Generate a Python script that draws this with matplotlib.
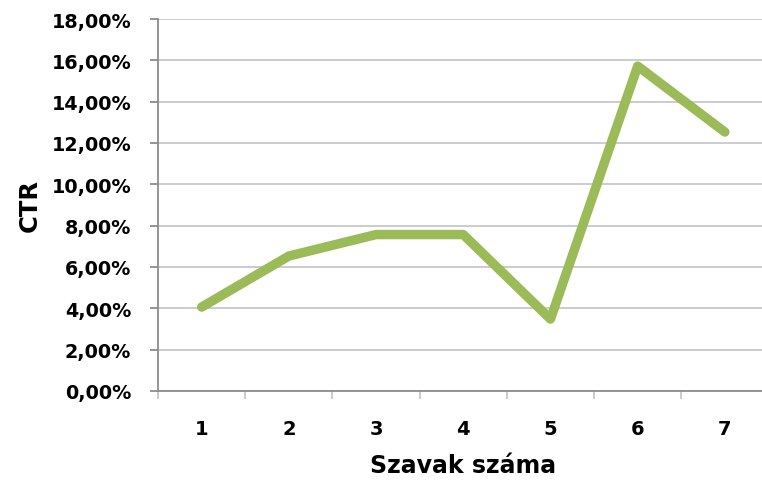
import matplotlib.pyplot as plt
from matplotlib.ticker import FuncFormatter, FixedLocator

words = [1, 2, 3, 4, 5, 6, 7]
ctr = [4.06, 6.53, 7.57, 7.57, 3.48, 15.72, 12.53]

fig = plt.figure(figsize=(7.62, 4.81), dpi=100)
ax = fig.add_axes([158 / 762, 89 / 481, 610.5 / 762, 372 / 481])

xpos = [w - 0.5 for w in words]
ax.plot(xpos, ctr, color='#9BBB59', linewidth=6.8, solid_capstyle='round', solid_joinstyle='round')

ax.set_xlim(0, 7)
ax.set_ylim(0, 18)
ax.set_yticks(range(0, 19, 2))
ax.yaxis.set_major_formatter(FuncFormatter(lambda v, p: f"{v:.2f}%".replace('.', ',')))
ax.set_xticks(xpos)
ax.set_xticklabels([str(w) for w in words])
ax.xaxis.set_minor_locator(FixedLocator(range(0, 8)))

ax.grid(axis='y', color='#c8c8c8', linewidth=1.3)
ax.set_axisbelow(True)
for s in ['top', 'right']:
    ax.spines[s].set_visible(False)
for s in ['left', 'bottom']:
    ax.spines[s].set_color('#8c8c8c')
    ax.spines[s].set_linewidth(1.3)

ax.tick_params(axis='y', length=5.8, width=1.3, color='#8c8c8c', pad=13.5, labelsize=13.8)
ax.tick_params(axis='x', which='major', length=0, pad=20, labelsize=14)
ax.tick_params(axis='x', which='minor', length=6, width=1.3, color='#c8c8c8')
for lbl in ax.get_xticklabels() + ax.get_yticklabels():
    lbl.set_fontweight('bold')

ax.set_ylabel('CTR', fontsize=17.5, fontweight='bold', labelpad=7)
ax.set_xlabel('Szavak száma', fontsize=17, fontweight='bold', labelpad=11)

fig.savefig('out.png', dpi=100)
